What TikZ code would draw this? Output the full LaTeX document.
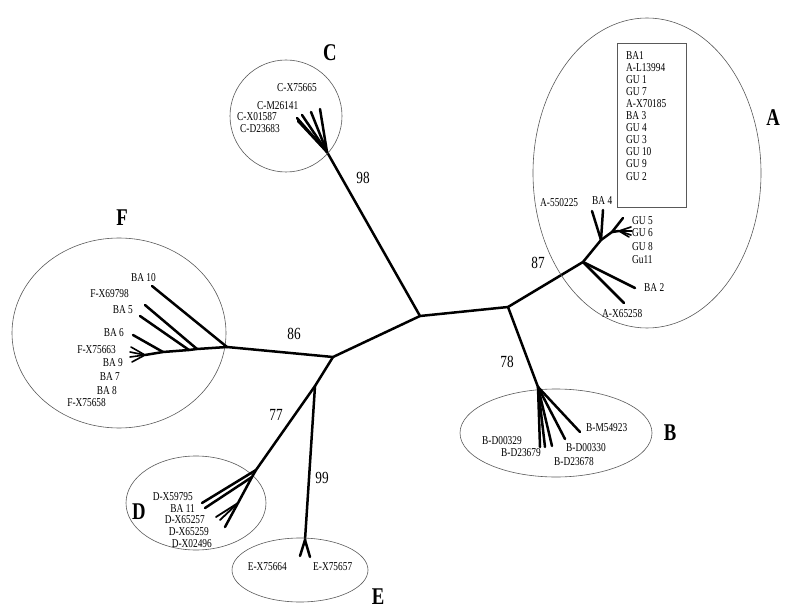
\documentclass[tikz,border=0pt]{standalone}
\usepackage{fontspec}
\newfontfamily\treefont[FakeStretch=0.78]{Liberation Serif}
\tikzset{
    branch/.style={line width=2.5pt, line cap=round, line join=round},
    clade/.style={draw=black!65, line width=0.6pt},
    leaf/.style={font=\treefont\fontsize{12}{12}\selectfont, inner sep=0pt},
    boot/.style={font=\treefont\fontsize{17}{17}\selectfont, inner sep=0pt},
    cladename/.style={font=\treefont\bfseries\fontsize{24}{24}\selectfont, inner sep=0pt}
}

\begin{document}
\begin{tikzpicture}[x=1pt, y=-1pt]
    \useasboundingbox (0,0) rectangle (800,612);

    % Backbone
    \coordinate (n0) at (420,316);
    \coordinate (nR) at (508,307);
    \coordinate (nL) at (333,357);
    \coordinate (nDE) at (315,386);
    \coordinate (nC) at (327,152);
    \coordinate (nA) at (583,262);
    \coordinate (nB) at (538,387);
    \coordinate (nF) at (227,347);
    \coordinate (nD) at (256,470);
    \coordinate (nE) at (305,540);
    \draw[branch] (nC) -- (n0) -- (nR) -- (nA);
    \draw[branch] (nR) -- (nB);
    \draw[branch] (n0) -- (nL) -- (nF);
    \draw[branch] (nL) -- (nDE) -- (nD);
    \draw[branch] (nDE) -- (nE);

    % Clade C
    \draw[clade] (286,116) circle [radius=56pt];
    \foreach \tip in {(320,109), (311,112), (302,115), (297,118), (298,121)}
        \draw[branch] (nC) -- \tip;
    \node[leaf, anchor=west] (cX75665) at (277,88) {C-X75665};
    \node[leaf, anchor=west] (cM26141) at (257,106) {C-M26141};
    \node[leaf, anchor=west] (cX01587) at (237,117) {C-X01587};
    \node[leaf, anchor=west] (cD23683) at (240,129) {C-D23683};

    % Clade A
    \draw[clade] (647,173) ellipse [x radius=114pt, y radius=155pt];
    \draw[clade] (617,43) rectangle (686,207);
    \foreach \name [count=\i] in {BA1, A-L13994, GU 1, GU 7, A-X70185, BA 3, GU 4, GU 3, GU 10, GU 9, GU 2}
        \node[leaf, anchor=west] (boxA\i) at (626,{43+12.1*\i}) {\name};
    \coordinate (nA1) at (601,240);
    \coordinate (nA2) at (612,232);
    \coordinate (nA3) at (619,231);
    \draw[branch] (nA) -- (nA1) -- (nA2) -- (623,218);
    \draw[branch] (nA1) -- (592,211);
    \draw[branch] (nA1) -- (603,210);
    \draw[branch] (nA2) -- (nA3);
    \foreach \tip in {(631,227), (632,231), (631,235), (629,237)}
        \draw[branch, line width=1.6pt] (nA3) -- \tip;
    \draw[branch] (nA) -- (635,288);
    \draw[branch] (nA) -- (624,303);
    \node[leaf, anchor=west] (a550225) at (540,203) {A-550225};
    \node[leaf, anchor=west] (aBA4) at (592,201) {BA 4};
    \node[leaf, anchor=west] (aGU5) at (632,221) {GU 5};
    \node[leaf, anchor=west] (aGU6) at (632,233) {GU 6};
    \node[leaf, anchor=west] (aGU8) at (632,247) {GU 8};
    \node[leaf, anchor=west] (aGu11) at (632,260) {Gu11};
    \node[leaf, anchor=west] (aBA2) at (644,288) {BA 2};
    \node[leaf, anchor=west] (aX65258) at (602,314) {A-X65258};

    % Clade B
    \draw[clade] (556,433) ellipse [x radius=96pt, y radius=44pt];
    \foreach \tip in {(540,447), (545,447), (552,446), (565,439), (580,432)}
        \draw[branch] (nB) -- \tip;
    \node[leaf, anchor=west] (bM54923) at (586,428) {B-M54923};
    \node[leaf, anchor=west] (bD00329) at (482,441) {B-D00329};
    \node[leaf, anchor=west] (bD23679) at (501,453) {B-D23679};
    \node[leaf, anchor=west] (bD00330) at (566,448) {B-D00330};
    \node[leaf, anchor=west] (bD23678) at (554,462) {B-D23678};

    % Clade F
    \draw[clade] (119,333) ellipse [x radius=107pt, y radius=95pt];
    \coordinate (nF1) at (197,349);
    \coordinate (nF2) at (189,350);
    \coordinate (nF3) at (163,352);
    \coordinate (nF4) at (145,355);
    \draw[branch] (nF) -- (nF1) -- (nF2) -- (nF3) -- (nF4);
    \draw[branch] (nF) -- (152,286);
    \draw[branch] (nF1) -- (145,305);
    \draw[branch] (nF2) -- (140,316);
    \draw[branch] (nF3) -- (133,335);
    \foreach \tip in {(131,347), (130,352), (130,357), (132,362)}
        \draw[branch, line width=1.6pt] (nF4) -- \tip;
    \node[leaf, anchor=east] (fBA10) at (156,278) {BA 10};
    \node[leaf, anchor=east] (fX69798) at (129,294) {F-X69798};
    \node[leaf, anchor=east] (fBA5) at (133,310) {BA 5};
    \node[leaf, anchor=east] (fBA6) at (124,333) {BA 6};
    \node[leaf, anchor=east] (fX75663) at (116,350) {F-X75663};
    \node[leaf, anchor=east] (fBA9) at (123,363) {BA 9};
    \node[leaf, anchor=east] (fBA7) at (120,377) {BA 7};
    \node[leaf, anchor=east] (fBA8) at (117,391) {BA 8};
    \node[leaf, anchor=east] (fX75658) at (106,403) {F-X75658};

    % Clade D
    \draw[clade] (196,503) ellipse [x radius=70pt, y radius=47pt];
    \coordinate (nD1) at (252,477);
    \coordinate (nD2) at (238,503);
    \draw[branch] (nD) -- (nD1) -- (nD2) -- (225,527);
    \draw[branch] (nD) -- (202,503);
    \draw[branch] (nD1) -- (205,508);
    \draw[branch, line width=1.8pt] (nD2) -- (216,517);
    \draw[branch, line width=1.8pt] (nD2) -- (220,520);
    \node[leaf, anchor=east] (dX59795) at (193,497) {D-X59795};
    \node[leaf, anchor=east] (dBA11) at (195,508.5) {BA 11};
    \node[leaf, anchor=east] (dX65257) at (205,520) {D-X65257};
    \node[leaf, anchor=east] (dX65259) at (209,531.5) {D-X65259};
    \node[leaf, anchor=east] (dX02496) at (212,544) {D-X02496};

    % Clade E
    \draw[clade] (300,570) ellipse [x radius=68pt, y radius=32pt];
    \draw[branch] (nE) -- (300,556);
    \draw[branch] (nE) -- (310,557);
    \node[leaf, anchor=east] (eX75664) at (287,567) {E-X75664};
    \node[leaf, anchor=west] (eX75657) at (313,567) {E-X75657};

    % Bootstrap values
    \node[boot] (bs98) at (363,178) {98};
    \node[boot] (bs87) at (538,263) {87};
    \node[boot] (bs86) at (294,334) {86};
    \node[boot] (bs78) at (507,362) {78};
    \node[boot] (bs77) at (276,415) {77};
    \node[boot] (bs99) at (322,478) {99};

    % Clade names
    \node[cladename] (lblA) at (773,118) {A};
    \node[cladename] (lblB) at (670,433) {B};
    \node[cladename] (lblC) at (330,53) {C};
    \node[cladename] (lblD) at (139,512) {D};
    \node[cladename] (lblE) at (378,597) {E};
    \node[cladename] (lblF) at (122,218) {F};
\end{tikzpicture}
\end{document}
